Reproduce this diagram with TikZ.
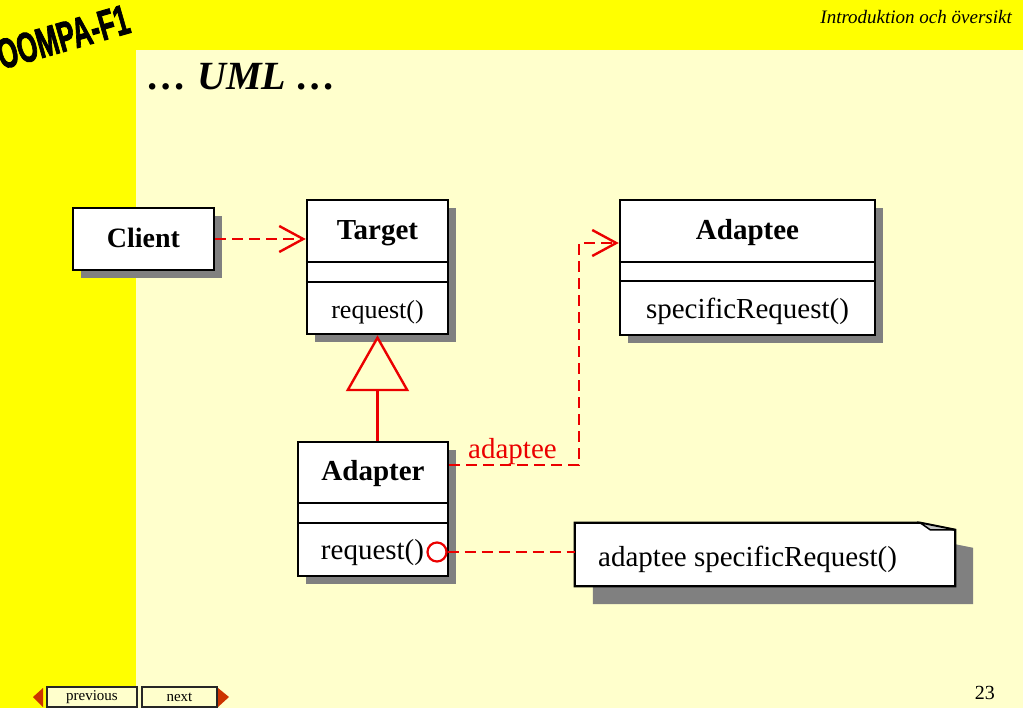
\documentclass[tikz,border=0pt]{standalone}
\usepackage{fontspec}
\setmainfont{Liberation Serif}
\newfontfamily\logofont[FakeBold=2.5]{Liberation Sans}
\usetikzlibrary{arrows.meta,shadows}
\definecolor{pagebg}{RGB}{255,255,204}
\definecolor{bandyellow}{RGB}{255,255,0}
\definecolor{shadowgray}{RGB}{128,128,128}
\definecolor{umlred}{RGB}{235,0,0}
\definecolor{navred}{RGB}{204,51,0}
\begin{document}
\begin{tikzpicture}[x=1pt,y=-1pt,
  classbox/.style={draw=black, line width=2.5pt, fill=white, rectangle, inner sep=0pt,
    drop shadow={shadow xshift=8pt, shadow yshift=-8pt, opacity=1, fill=shadowgray}},
  namefont/.style={font=\fontsize{29}{32}\selectfont\bfseries, anchor=base, inner sep=0pt},
  opfont/.style={font=\fontsize{29}{32}\selectfont, anchor=base, inner sep=0pt},
  divider/.style={line width=2.5pt},
  depline/.style={draw=umlred, line width=2.4pt, dash pattern=on 11pt off 6pt},
  deparrow/.style={depline, -{Straight Barb[length=24pt,width=26pt,line width=2.4pt]}},
  genarrow/.style={draw=umlred, line width=2.4pt, -{Triangle[length=56pt,width=63pt,fill=pagebg,line width=2.4pt]}},
  navbtn/.style={draw=black!85, line width=1.5pt, fill=pagebg, inner sep=0pt, font=\fontsize{15}{16}\selectfont},
]
\useasboundingbox (0,0) rectangle (1023,708);
\clip (0,0) rectangle (1023,708);
% background
\fill[pagebg] (0,0) rectangle (1023,708);
\fill[bandyellow] (0,0) rectangle (1023,50);
\fill[bandyellow] (0,0) rectangle (136,708);
% logo and headings
\node[font=\logofont\bfseries\fontsize{42}{42}\selectfont, rotate=16, inner sep=0pt] (logo) at (63,37) {\scalebox{0.62}[1]{OOMPA-F1}};
\node[font=\itshape\fontsize{19}{22}\selectfont, anchor=base east, inner sep=0pt] (header) at (1012,24) {Introduktion och översikt};
\node[font=\bfseries\itshape\fontsize{40}{44}\selectfont, anchor=base west, inner sep=0pt] (title) at (147,90) {… UML …};
\node[font=\fontsize{20}{22}\selectfont, anchor=base east, inner sep=0pt] (pagenum) at (995,699) {23};
% navigation
\node[navbtn, minimum width=90pt, minimum height=20pt] (prev) at (92,697) {previous};
\node[navbtn, minimum width=75pt, minimum height=20pt] (next) at (179.5,697) {next};
\fill[navred] (33,697) -- (43,688) -- (43,707) -- cycle;
\fill[navred] (218,688) -- (218,707) -- (229,697) -- cycle;
% Client
\node[classbox, minimum width=141pt, minimum height=62pt] (Client) at (143.5,239) {};
\node[namefont, font=\fontsize{28}{30}\selectfont\bfseries] (ClientName) at (143.5,248) {Client};
% Target
\node[classbox, minimum width=141pt, minimum height=134pt] (Target) at (377.5,267) {};
\draw[divider] (Target.west |- 0,262) -- (Target.east |- 0,262);
\draw[divider] (Target.west |- 0,282) -- (Target.east |- 0,282);
\node[namefont] (TargetName) at (377.5,240) {Target};
\node[opfont, font=\fontsize{26}{28}\selectfont] (TargetOp) at (377.5,319) {request()};
% Adaptee
\node[classbox, minimum width=255pt, minimum height=135pt] (Adaptee) at (747.5,267.5) {};
\draw[divider] (Adaptee.west |- 0,262) -- (Adaptee.east |- 0,262);
\draw[divider] (Adaptee.west |- 0,281) -- (Adaptee.east |- 0,281);
\node[namefont] (AdapteeName) at (747.5,240) {Adaptee};
\node[opfont] (AdapteeOp) at (747.5,319) {specificRequest()};
% Adapter
\node[classbox, minimum width=150pt, minimum height=134pt] (Adapter) at (373,509) {};
\draw[divider] (Adapter.west |- 0,503) -- (Adapter.east |- 0,503);
\draw[divider] (Adapter.west |- 0,523) -- (Adapter.east |- 0,523);
\node[namefont] (AdapterName) at (373,480) {Adapter};
\node[opfont] (AdapterOp) at (372.5,559) {request()};
\node[draw=umlred, line width=2.2pt, circle, minimum size=19pt, inner sep=0pt] (lollipop) at (437,552) {};
% Note
\node[minimum width=380pt, minimum height=63pt, inner sep=0pt] (Note) at (765,554.5) {};
\path[draw=black, line width=2.2pt, fill=white,
  drop shadow={shadow xshift=18pt, shadow yshift=-18pt, opacity=1, fill=shadowgray}]
  (Note.north west) -- ([xshift=-35pt]Note.north east) -- ([yshift=-7pt]Note.north east)
  -- (Note.south east) -- (Note.south west) -- cycle;
\draw[line width=1.5pt, fill=gray!45] ([xshift=-35pt]Note.north east) -- ([xshift=-25pt,yshift=-7pt]Note.north east) -- ([yshift=-7pt]Note.north east) -- cycle;
\node[opfont, anchor=base west] (NoteText) at (598,566) {adaptee specificRequest()};
% connectors
\coordinate (bendTop) at (579,243);
\draw[deparrow] (Client.east) -- (Client.east -| Target.west);
\draw[genarrow] (Adapter.north -| Target.south) -- (Target.south);
\draw[deparrow] ([yshift=44pt]Adapter.east) -| (bendTop) -- (bendTop -| Adaptee.west);
\node[opfont, text=umlred, anchor=base west] (adapteeLbl) at (468,458) {adaptee};
\draw[depline] (lollipop.east) -- (lollipop.east -| Note.west);
\end{tikzpicture}
\end{document}
